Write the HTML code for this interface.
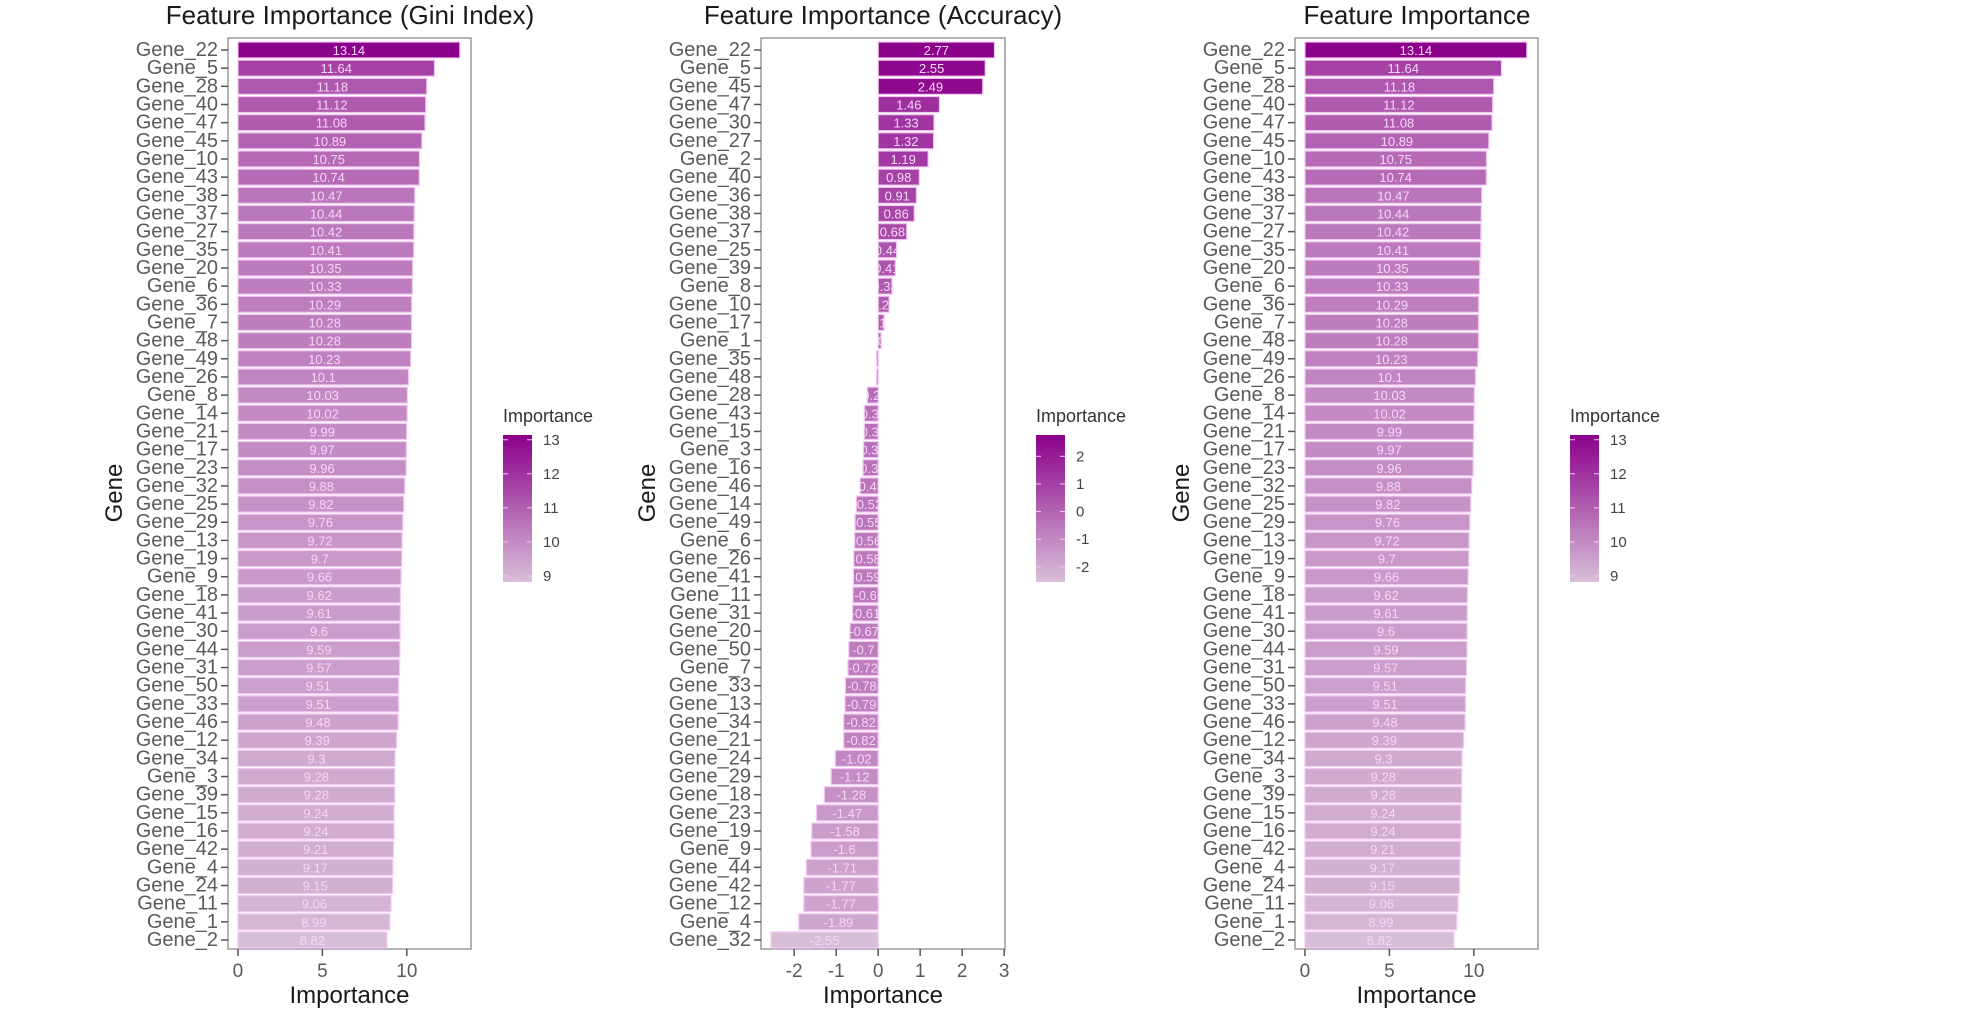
<!DOCTYPE html>
<html><head><meta charset="utf-8">
<style>
html,body{margin:0;padding:0;background:#fff;}
svg{display:block;font-family:"Liberation Sans",Arial,sans-serif;}
</style></head>
<body>
<svg id="chart" width="1972" height="1023" viewBox="0 0 1972 1023"></svg>
<script>
const giniGenes = ["Gene_22","Gene_5","Gene_28","Gene_40","Gene_47","Gene_45","Gene_10","Gene_43","Gene_38","Gene_37","Gene_27","Gene_35","Gene_20","Gene_6","Gene_36","Gene_7","Gene_48","Gene_49","Gene_26","Gene_8","Gene_14","Gene_21","Gene_17","Gene_23","Gene_32","Gene_25","Gene_29","Gene_13","Gene_19","Gene_9","Gene_18","Gene_41","Gene_30","Gene_44","Gene_31","Gene_50","Gene_33","Gene_46","Gene_12","Gene_34","Gene_3","Gene_39","Gene_15","Gene_16","Gene_42","Gene_4","Gene_24","Gene_11","Gene_1","Gene_2"];
const giniValues = [13.14,11.64,11.18,11.12,11.08,10.89,10.75,10.74,10.47,10.44,10.42,10.41,10.35,10.33,10.29,10.28,10.28,10.23,10.1,10.03,10.02,9.99,9.97,9.96,9.88,9.82,9.76,9.72,9.7,9.66,9.62,9.61,9.6,9.59,9.57,9.51,9.51,9.48,9.39,9.3,9.28,9.28,9.24,9.24,9.21,9.17,9.15,9.06,8.99,8.82];
const accGenes = ["Gene_22","Gene_5","Gene_45","Gene_47","Gene_30","Gene_27","Gene_2","Gene_40","Gene_36","Gene_38","Gene_37","Gene_25","Gene_39","Gene_8","Gene_10","Gene_17","Gene_1","Gene_35","Gene_48","Gene_28","Gene_43","Gene_15","Gene_3","Gene_16","Gene_46","Gene_14","Gene_49","Gene_6","Gene_26","Gene_41","Gene_11","Gene_31","Gene_20","Gene_50","Gene_7","Gene_33","Gene_13","Gene_34","Gene_21","Gene_24","Gene_29","Gene_18","Gene_23","Gene_19","Gene_9","Gene_44","Gene_42","Gene_12","Gene_4","Gene_32"];
const accValues = [2.77,2.55,2.49,1.46,1.33,1.32,1.19,0.98,0.91,0.86,0.68,0.44,0.41,0.33,0.26,0.14,0.07,-0.04,-0.04,-0.26,-0.33,-0.33,-0.35,-0.36,-0.43,-0.52,-0.55,-0.56,-0.58,-0.59,-0.6,-0.61,-0.67,-0.7,-0.72,-0.78,-0.79,-0.82,-0.82,-1.02,-1.12,-1.28,-1.47,-1.58,-1.6,-1.71,-1.77,-1.77,-1.89,-2.55];
const giniTicks = [0,5,10];
const giniLegendTicks = [9,10,11,12,13];
const accTicks = [-2,-1,0,1,2,3];
const accLegendTicks = [-2,-1,0,1,2];

const NS="http://www.w3.org/2000/svg";
const svg=document.getElementById('chart');
function mk(tag,attrs,parent){const e=document.createElementNS(NS,tag);for(const k in attrs)e.setAttribute(k,attrs[k]);(parent||svg).appendChild(e);return e;}
const lo=[216,191,216], hi=[139,0,139];
function col(t){t=Math.max(0,Math.min(1,t));return 'rgb('+lo.map((c,i)=>Math.round(c+(hi[i]-c)*t)).join(',')+')';}
const defs=mk('defs',{});
let clipId=0;

function panel(cfg){
  const {genes,values,ticks,legTicks,boxL,boxR,dmin,dmax,title,titleX,legX,gid}=cfg;
  const top=38,bot=949,y0=50,step=(940-50)/49,bh=16;
  const g=mk('g',{});
  
  
  const x=v=>boxL+(v-dmin)/(dmax-dmin)*(boxR-boxL);
  const y=i=>y0+i*step;
  const vmin=Math.min(...values),vmax=Math.max(...values);
  const c=v=>col((v-vmin)/(vmax-vmin));
  const t=mk('text',{x:titleX,y:24,'text-anchor':'middle','font-size':26,fill:'#1a1a1a'},g);t.textContent=title;
  
  const box=mk('rect',{x:boxL,y:top,width:boxR-boxL,height:bot-top,fill:'none',stroke:'#9a9a9a','stroke-width':1.5},g);
  
  values.forEach((v,i)=>{
    const x0=x(0),x1=x(v),xl=Math.min(x0,x1),w=Math.abs(x1-x0);
    const b=mk('rect',{x:xl,y:y(i)-bh/2,width:Math.max(w,1),height:bh,fill:c(v),stroke:'#f3c9f3','stroke-width':1.2},g);
    
    
    const cid='clip'+(clipId++);
    const cp=mk('clipPath',{id:cid},defs);
    mk('rect',{x:xl,y:y(i)-bh/2,width:Math.max(w,1),height:bh},cp);
    const lt=mk('text',{x:xl+w/2,y:y(i)+5,'text-anchor':'middle','font-size':13,fill:'#f6d6f6','clip-path':'url(#'+cid+')'},g);
    lt.textContent=String(v);
    
    mk('line',{x1:boxL-7,x2:boxL,y1:y(i),y2:y(i),stroke:'#555','stroke-width':1.5},g);
    const gl=mk('text',{x:boxL-10,y:y(i)+6,'text-anchor':'end','font-size':20,fill:'#5a5a5a'},g);
    gl.textContent=genes[i];
    
  });
  ticks.forEach(tv=>{
    mk('line',{x1:x(tv),x2:x(tv),y1:bot,y2:bot+7,stroke:'#555','stroke-width':1.5},g);
    const tl=mk('text',{x:x(tv),y:977,'text-anchor':'middle','font-size':19,fill:'#5a5a5a'},g);
    tl.textContent=String(tv);
    
  });
  const xt=mk('text',{x:(boxL+boxR)/2,y:1003,'text-anchor':'middle','font-size':24,fill:'#1a1a1a'},g);
  xt.textContent='Importance';
  const yt=mk('text',{x:0,y:0,'text-anchor':'middle','font-size':24,fill:'#1a1a1a',transform:'translate('+(boxL-106)+',493) rotate(-90)'},g);
  yt.textContent='Gene';
  const lg=mk('g',{},g);
  
  const lt=mk('text',{x:legX,y:422,'font-size':18,fill:'#333'},lg);lt.textContent='Importance';
  const gradId='grad'+gid;
  const gr=mk('linearGradient',{id:gradId,x1:0,y1:1,x2:0,y2:0},defs);
  mk('stop',{offset:0,'stop-color':col(0)},gr);mk('stop',{offset:1,'stop-color':col(1)},gr);
  const lTop=435,lBot=582;
  mk('rect',{x:legX,y:lTop,width:29,height:lBot-lTop,fill:'url(#'+gradId+')'},lg);
  const ly=v=>lBot-(v-vmin)/(vmax-vmin)*(lBot-lTop);
  legTicks.forEach(tv=>{
    mk('line',{x1:legX,x2:legX+5,y1:ly(tv),y2:ly(tv),stroke:'#f3c9f3','stroke-width':1},lg);
    mk('line',{x1:legX+24,x2:legX+29,y1:ly(tv),y2:ly(tv),stroke:'#f3c9f3','stroke-width':1},lg);
    const tt=mk('text',{x:legX+40,y:ly(tv)+5,'font-size':15,fill:'#444'},lg);tt.textContent=String(tv);
  });
}
panel({genes:giniGenes,values:giniValues,ticks:giniTicks,legTicks:giniLegendTicks,boxL:228,boxR:471,dmin:-0.59,dmax:13.8,title:'Feature Importance (Gini Index)',titleX:350,legX:503,gid:'gini-panel'});
panel({genes:accGenes,values:accValues,ticks:accTicks,legTicks:accLegendTicks,boxL:761,boxR:1005,dmin:-2.79,dmax:3.02,title:'Feature Importance (Accuracy)',titleX:883,legX:1036,gid:'accuracy-panel'});
panel({genes:giniGenes,values:giniValues,ticks:giniTicks,legTicks:giniLegendTicks,boxL:1295,boxR:1538,dmin:-0.59,dmax:13.8,title:'Feature Importance',titleX:1417,legX:1570,gid:'combined-panel'});
</script>
</body></html>
